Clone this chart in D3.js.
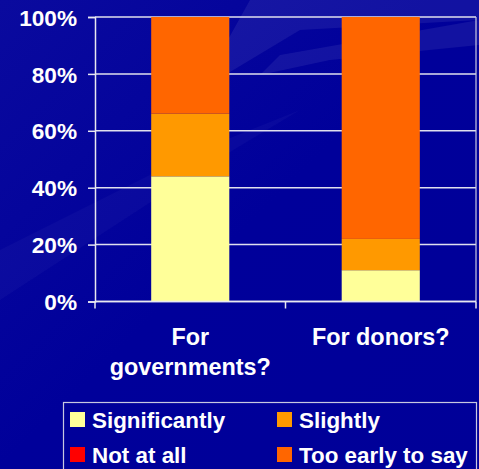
<!DOCTYPE html>
<html><head><meta charset="utf-8">
<script src="https://cdn.jsdelivr.net/npm/d3@7"></script>
<style>html,body{margin:0;padding:0;background:#000099;overflow:hidden}</style>
</head><body>
<svg id="c" width="479" height="469"></svg>
<script>
const categories = ["For governments?", "For donors?"];
const categoryLines = [["For", "governments?"], ["For donors?"]];
const seriesNames = ["Significantly", "Slightly", "Not at all", "Too early to say"];
const significantly = [44, 11];
const slightly = [22, 11];
const notAtAll = [0, 0];
const tooEarly = [34, 78];
const yTicks = [0, 20, 40, 60, 80, 100];
const colors = ["#FFFF99", "#FF9900", "#FF0000", "#FF6600"];

const svg = d3.select("#c");
const W = 479, H = 469;
const font = "'Liberation Sans', Arial, sans-serif";

// background
const defs = svg.append("defs");
const g1 = defs.append("linearGradient").attr("id","bg").attr("x1","0").attr("y1","0").attr("x2","1").attr("y2","1");
g1.append("stop").attr("offset","0").attr("stop-color","#0a0a9e");
g1.append("stop").attr("offset","0.5").attr("stop-color","#00009a");
g1.append("stop").attr("offset","1").attr("stop-color","#000098");
svg.append("rect").attr("width",W).attr("height",H).attr("fill","url(#bg)");
// subtle streaks
const streaks = [
  [[250,0],[479,0],[479,20],[300,30],[200,90]],
  [[280,55],[479,20],[479,45],[330,60],[260,75]],
  [[0,250],[200,150],[300,110],[200,170],[0,300]]
];
streaks.forEach((p,i)=>svg.append("polygon").attr("points",p.map(d=>d.join(",")).join(" "))
  .attr("fill","#ffffff").attr("opacity", i===2?0.03:0.07));

const m = {left:95, right:476, top:17, bottom:301.5};
const x = d3.scaleBand().domain(categories).range([m.left, m.right]).paddingInner(0.59).paddingOuter(0.295);
const y = d3.scaleLinear().domain([0,100]).range([m.bottom, m.top]);

// gridlines
svg.append("g").selectAll("line").data(yTicks).join("line")
  .attr("x1", m.left).attr("x2", m.right)
  .attr("y1", d=>y(d)).attr("y2", d=>y(d))
  .attr("stroke","#e0e0ee").attr("stroke-width",1.5);
// right border
svg.append("line").attr("x1",m.right).attr("x2",m.right).attr("y1",m.top).attr("y2",m.bottom)
  .attr("stroke","#c8c8e0").attr("stroke-width",1.2);

// stacked bars
const table = categories.map((c,i)=>({cat:c, "Significantly":significantly[i], "Slightly":slightly[i], "Not at all":notAtAll[i], "Too early to say":tooEarly[i]}));
const stackOrder = ["Significantly","Slightly","Not at all","Too early to say"];
const stacked = d3.stack().keys(stackOrder)(table);
svg.append("g").selectAll("g").data(stacked).join("g")
  .attr("fill", d=>colors[seriesNames.indexOf(d.key)])
  .selectAll("rect").data(d=>d).join("rect")
  .attr("x", d=>x(d.data.cat)).attr("width", x.bandwidth())
  .attr("y", d=>y(d[1])).attr("height", d=>y(d[0])-y(d[1]));

// y axis
const ya = svg.append("g").attr("transform",`translate(${m.left},0)`)
  .call(d3.axisLeft(y).tickValues(yTicks).tickFormat(d=>d+"%").tickSize(7).tickPadding(11));
ya.select(".domain").attr("stroke","#e8e8f0").attr("stroke-width",1.5);
ya.selectAll(".tick line").attr("stroke","#e8e8f0").attr("stroke-width",1.5);
ya.selectAll("text").attr("fill","#ffffff").attr("font-family",font).attr("font-weight","bold")
  .attr("font-size","22.6px").attr("dy","0.36em");

// x axis baseline & ticks
const xa = svg.append("g");
xa.append("line").attr("x1",m.left).attr("x2",m.right).attr("y1",m.bottom).attr("y2",m.bottom)
  .attr("stroke","#e8e8f0").attr("stroke-width",1.5);
const bounds = [m.left, ...categories.slice(1).map(c=>x(c)-x.step()*x.paddingInner()/2), m.right];
xa.selectAll(".xt").data(bounds).join("line").attr("class","xt")
  .attr("x1",d=>d).attr("x2",d=>d).attr("y1",m.bottom).attr("y2",m.bottom+7)
  .attr("stroke","#e8e8f0").attr("stroke-width",1.5);

// category labels
categories.forEach((c,i)=>{
  const cx = x(c)+x.bandwidth()/2;
  const t = svg.append("text").attr("x",cx).attr("y",345).attr("text-anchor","middle")
    .attr("fill","#fff").attr("font-family",font).attr("font-weight","bold").attr("font-size","23.4px");
  categoryLines[i].forEach((ln,j)=>t.append("tspan").attr("x",cx).attr("dy", j===0?0:30).text(ln));
});

// legend
svg.append("rect").attr("x",63.5).attr("y",402.5).attr("width",413).attr("height",70)
  .attr("fill","none").attr("stroke","#c8c8e0").attr("stroke-width",1.2);
const legPos = [[70,412],[277,412],[70,447],[277,447]];
seriesNames.forEach((s,i)=>{
  const [lx,ly] = legPos[i];
  svg.append("rect").attr("x",lx).attr("y",ly).attr("width",15).attr("height",15).attr("fill",colors[i]);
  svg.append("text").attr("x",lx+22).attr("y",ly+16).attr("fill","#fff").attr("font-family",font)
    .attr("font-weight","bold").attr("font-size","22.4px").text(s);
});
</script>
</body></html>
